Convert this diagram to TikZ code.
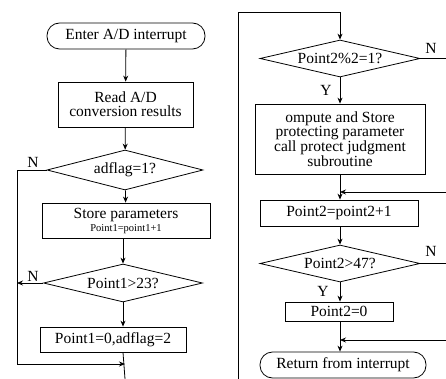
\documentclass[tikz,border=0pt]{standalone}
\usepackage{fontspec}
\setmainfont{Liberation Serif}
\usetikzlibrary{shapes.geometric,arrows.meta}
\begin{document}
\begin{tikzpicture}[x=1pt,y=-1pt,
  every node/.style={font=\fontsize{15.5}{14}\selectfont, inner sep=0pt, align=center},
  term/.style={draw, line width=0.8pt, rounded corners=12.5pt},
  proc/.style={draw, line width=0.8pt},
  dec/.style={draw, line width=0.8pt, diamond, aspect=4.2},
  lbl/.style={font=\fontsize{15.5}{14}\selectfont},
  ln/.style={line width=0.8pt},
  arr/.style={line width=0.8pt, -{Stealth[length=6pt,width=5pt]}}]
\useasboundingbox (0,0) rectangle (446,379);
% left column
\node[term, minimum width=158pt, minimum height=26pt] (enter) at (126,36) {Enter A/D interrupt};
\node[proc, minimum width=135pt, minimum height=45pt] (read) at (125.5,104.5) {Read A/D\\conversion results};
\node[dec, minimum width=156pt, minimum height=40pt] (adf) at (125,170) {adflag=1?};
\node[proc, minimum width=168pt, minimum height=35pt] (store) at (126,220.5) {Store parameters\\[-1pt]{\fontsize{10.5}{10}\selectfont Point1=point1+1}};
\node[dec, minimum width=159pt, minimum height=38pt] (p1) at (123,283) {Point1>23?};
\node[proc, minimum width=146pt, minimum height=25pt] (p1z) at (113,339.5) {Point1=0,adflag=2};
\coordinate (lA) at (17,170);
\coordinate (lB) at (17,283);
\coordinate (lC) at (17,364);
\coordinate (lJ) at (125,364);
\coordinate (lEnd) at (125,379);
\node[lbl] (n1) at (33,162) {N};
\node[lbl] (n2) at (33,276) {N};
\draw[arr] (enter) -- (read);
\draw[arr] (read) -- (adf);
\draw[arr] (adf) -- (store);
\draw[arr] (store.south -| p1.north) -- (p1);
\draw[arr] (p1) -- (p1.south |- p1z.north);
\draw[ln] (adf.west) -- (lA) -- (lC);
\draw[arr] (p1.west) -- (lB);
\draw[arr] (lC) -- (lJ);
\draw[ln] (p1.south |- p1z.south) -- (lEnd);
% right column
\coordinate (sB) at (238,379);
\coordinate (sT) at (238,12);
\coordinate (sC) at (340,12);
\node[dec, minimum width=160pt, minimum height=37pt] (p2m) at (340,58.5) {Point2\%2=1?};
\node[proc, minimum width=170pt, minimum height=70pt] (comp) at (340,139) {ompute and Store\\protecting parameter\\call protect judgment\\subroutine};
\node[proc, minimum width=158pt, minimum height=26pt] (inc) at (339,213) {Point2=point2+1};
\node[dec, minimum width=160pt, minimum height=37pt] (p2g) at (340,263.5) {Point2>47?};
\node[proc, minimum width=108pt, minimum height=19pt] (p2z) at (339,311.5) {Point2=0};
\node[term, minimum width=166pt, minimum height=26pt] (ret) at (343,365) {Return from interrupt};
\node[lbl] (n3) at (431,48) {N};
\node[lbl] (y1) at (326,90) {Y};
\node[lbl] (n4) at (431,251) {N};
\node[lbl] (y2) at (323,291) {Y};
\coordinate (r1) at (446,58.5);
\coordinate (r2) at (446,192);
\coordinate (j2) at (340,192);
\coordinate (r3) at (446,263.5);
\coordinate (r4) at (446,340);
\coordinate (j4) at (340,340);
\draw[arr] (sB) -- (sT) -- (sC) -- (p2m.north);
\draw[arr] (p2m) -- (comp);
\draw[ln] (p2m.east) -- (r1);
\draw[arr] (comp.south) -- (comp.south |- inc.north);
\draw[arr] (r2) -- (j2);
\draw[arr] (inc.south -| p2g.north) -- (p2g);
\draw[ln] (p2g.east) -- (r3);
\draw[arr] (p2g.south) -- (p2g.south |- p2z.north);
\draw[arr] (p2g.south |- p2z.south) -- (p2g.south |- ret.north);
\draw[arr] (r4) -- (j4);
\end{tikzpicture}
\end{document}
